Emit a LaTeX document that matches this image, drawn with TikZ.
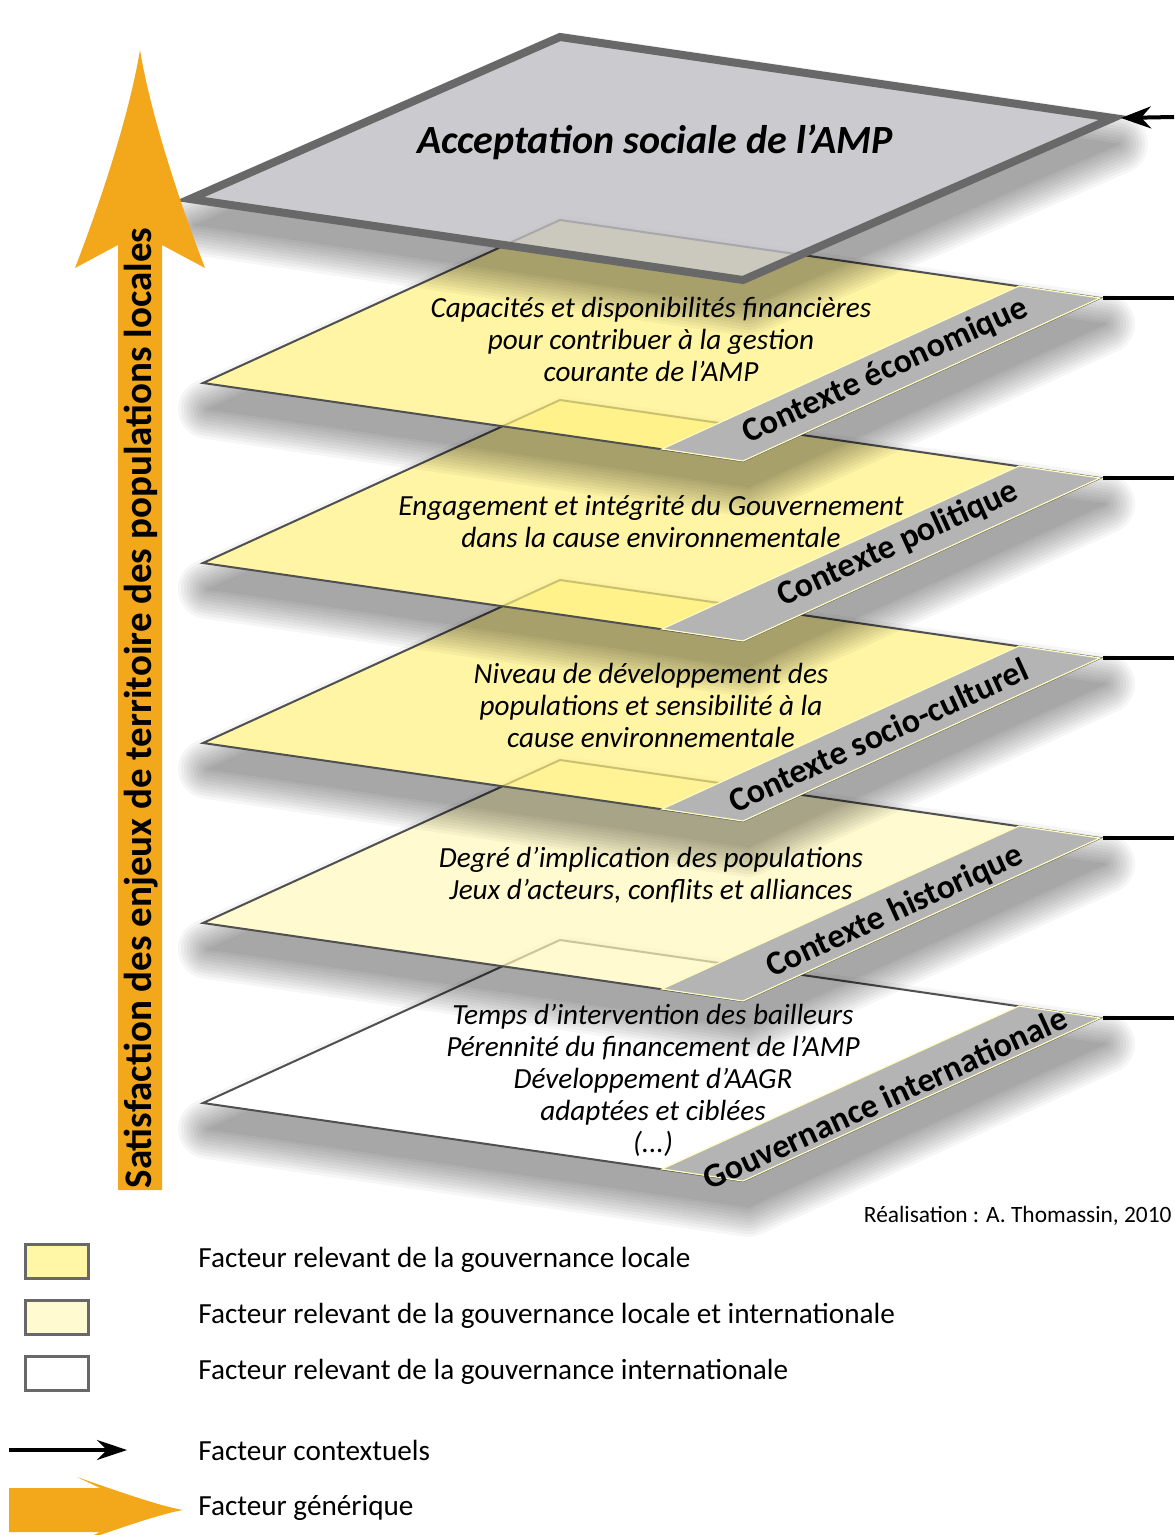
\documentclass[tikz,border=0pt]{standalone}
\usepackage{fontspec}
\setmainfont{Carlito}
\usetikzlibrary{arrows.meta}

\definecolor{jauneFort}{RGB}{255,241,127}
\definecolor{jaunePale}{RGB}{255,248,188}
\definecolor{legJaune}{RGB}{255,247,166}
\definecolor{legPale}{RGB}{255,250,208}
\definecolor{grisPlan}{RGB}{190,190,195}
\definecolor{grisBord}{RGB}{104,104,104}
\definecolor{grisBande}{RGB}{180,180,180}
\definecolor{grisTrait}{RGB}{80,80,80}
\definecolor{orangeFleche}{RGB}{242,168,26}

\begin{document}
\begin{tikzpicture}[x=0.5pt, y=-0.5pt,
    plan/.style={fill opacity=.7, draw=grisTrait, line width=1pt, line join=miter},
    bande/.style={fill=grisBande, draw=white!75!yellow, line width=.6pt},
    ombre/.style={transparency group, opacity=.034},
    texteplan/.style={align=center, font=\fontsize{14.6}{16}\selectfont\itshape},
    textebande/.style={rotate=24.5, inner sep=1pt, font=\fontsize{17}{18}\selectfont\bfseries},
    legende/.style={anchor=west, inner sep=0pt, font=\fontsize{14.6}{16}\selectfont},
    legbox/.style={draw=grisBord, line width=1.5pt, minimum width=31.5pt, minimum height=17pt, inner sep=0pt},
    trait/.style={line width=2pt}]
    \useasboundingbox (0,0) rectangle (1174,1535);
    \fill[white] (0,0) rectangle (1174,1535);

    % plans, du bas vers le haut
    \foreach \dy/\couleur/\nom in {720/white/p5, 540/jaunePale/p4, 360/jauneFort/p3, 180/jauneFort/p2, 0/jauneFort/p1}{
        \coordinate (\nom-t) at (560,220+\dy);
        \coordinate (\nom-r) at (1100,298+\dy);
        \coordinate (\nom-b) at (743,461+\dy);
        \coordinate (\nom-l) at (203,383+\dy);
        \coordinate (\nom-e) at (1174,298+\dy);
        \begin{scope}
            \clip (-50,-50) -- (1250,-50) -- (1250,1600) -- (-50,1600) -- cycle
                (\nom-t) -- (\nom-l) -- (\nom-b) -- (\nom-r) -- cycle;
            \foreach \w in {0,3,...,30}{
                \begin{scope}[ombre]
                    \filldraw[black, line width=\w pt, line join=round] (565,246+\dy) -- (1105,324+\dy) -- (748,487+\dy) -- (208,409+\dy) -- cycle;
                \end{scope}
            }
        \end{scope}
        \filldraw[plan, fill=\couleur] (\nom-t) -- (\nom-r) -- (\nom-b) -- (\nom-l) -- cycle;
        \filldraw[bande] (1019,286+\dy) -- (\nom-r) -- (\nom-b) -- (662,449+\dy) -- cycle;
        \draw[trait] ([xshift=1.5pt]\nom-r) -- (\nom-e);
    }

    % plan du haut
    \coordinate (acc-t) at (560,37);
    \coordinate (acc-r) at (1113,118);
    \coordinate (acc-b) at (743,280);
    \coordinate (acc-l) at (190,199);
    \coordinate (acc-e) at (1174,117);
    \begin{scope}
        \clip (-50,-50) -- (1250,-50) -- (1250,1600) -- (-50,1600) -- cycle
            (acc-t) -- (acc-l) -- (acc-b) -- (acc-r) -- cycle;
        \foreach \w in {0,3,...,30}{
            \begin{scope}[ombre]
                \filldraw[black, line width=\w pt, line join=round] (565,63) -- (1118,144) -- (748,306) -- (195,225) -- cycle;
            \end{scope}
        }
    \end{scope}
    \filldraw[fill=grisPlan, fill opacity=.8, draw=grisBord, line width=4pt, line join=miter]
        (acc-t) -- (acc-r) -- (acc-b) -- (acc-l) -- cycle;
    \draw[trait, -{Stealth[length=15pt, width=11pt]}] (acc-e) -- ([xshift=4pt]acc-r);

    % textes des plans
    \node[font=\fontsize{20}{22}\selectfont\bfseries\itshape] (titre) at (655,142) {Acceptation sociale de l'AMP};
    \node[texteplan] (eco) at (651,339) {Capacités et disponibilités financières\\pour contribuer à la gestion\\courante de l'AMP};
    \node[texteplan] (pol) at (651,521) {Engagement et intégrité du Gouvernement\\dans la cause environnementale};
    \node[texteplan] (soc) at (651,705) {Niveau de développement des\\populations et sensibilité à la\\cause environnementale};
    \node[texteplan] (his) at (651,875) {Degré d'implication des populations\\Jeux d'acteurs, conflits et alliances};
    \node[texteplan] (gouv) at (653,1080) {Temps d'intervention des bailleurs\\Pérennité du financement de l'AMP\\Développement d'AAGR\\adaptées et ciblées\\(...)};

    \node[textebande] (ctxeco) at (885,371) {Contexte économique};
    \node[textebande] (ctxpol) at (898,544) {Contexte politique};
    \node[textebande] (ctxsoc) at (878,735) {Contexte socio-culturel};
    \node[textebande] (ctxhis) at (895,912) {Contexte historique};
    \node[textebande] (ctxgouv) at (885,1098) {Gouvernance internationale};

    % fleche orange
    \fill[orangeFleche] (118,1190) -- (118,245) -- (75,268) .. controls (105,190) and (130,110) .. (140,50)
        .. controls (150,110) and (175,190) .. (205,268) -- (162,245) -- (162,1190) -- cycle;
    \node[rotate=90, font=\fontsize{19.5}{20}\selectfont\bfseries] (satisf) at (141,708) {Satisfaction des enjeux de territoire des populations locales};

    \node[anchor=east, inner sep=0pt, font=\fontsize{11.7}{12}\selectfont] (real) at (1172,1216) {Réalisation : A. Thomassin, 2010};

    % legende
    \node[legbox, fill=legJaune] (box1) at (56.5,1261) {};
    \node[legbox, fill=legPale] (box2) at (56.5,1317) {};
    \node[legbox, fill=white] (box3) at (56.5,1373) {};
    \node[legende] (leg1) at (198,1260) {Facteur relevant de la gouvernance locale};
    \node[legende] (leg2) at (198,1316) {Facteur relevant de la gouvernance locale et internationale};
    \node[legende] (leg3) at (198,1372) {Facteur relevant de la gouvernance internationale};

    \coordinate (fc-a) at (9,1450);
    \coordinate (fc-b) at (127,1450);
    \draw[line width=1.75pt, -{Stealth[length=15pt, width=10pt]}] (fc-a) -- (fc-b);
    \node[legende] (leg4) at (198,1450) {Facteur contextuels};

    \fill[orangeFleche] (9,1488) -- (100,1488) -- (77,1477) .. controls (120,1492) and (160,1506) .. (183,1510)
        .. controls (160,1514) and (120,1528) .. (77,1543) -- (100,1532) -- (9,1532) -- cycle;
    \node[legende] (leg5) at (198,1508) {Facteur générique};
\end{tikzpicture}
\end{document}
